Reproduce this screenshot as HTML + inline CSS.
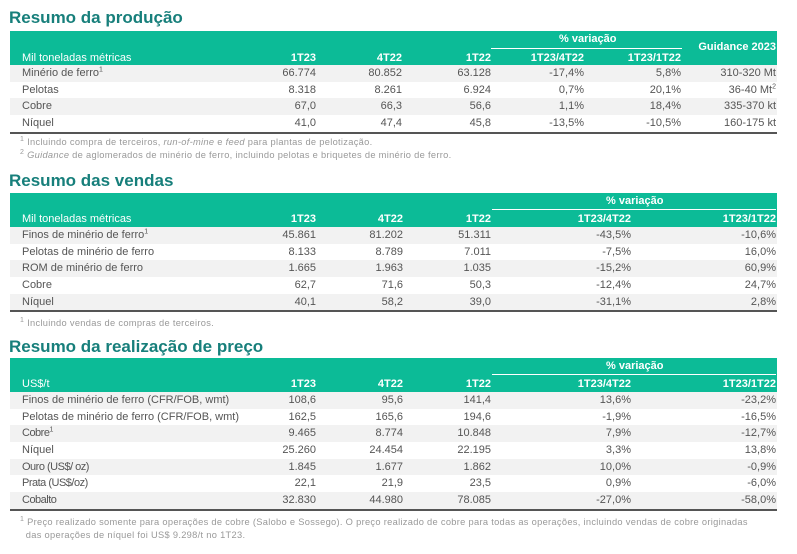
<!DOCTYPE html><html><head><meta charset="utf-8"><style>
body{margin:0;width:797px;height:554px;background:#fff;font-family:"Liberation Sans",sans-serif;position:relative;overflow:hidden}
.t{position:absolute;left:9px;font-size:17px;font-weight:bold;color:#177f7b;line-height:20px}
.tb{position:absolute;left:10px;width:767px}
.hd{position:relative;background:#0cbb97;color:#fff;font-size:11px;font-weight:bold}
.r{position:relative;height:16.7px;line-height:16.7px;font-size:11px;color:#555}
.g{background:#f2f2f2}
.c{position:absolute;top:0;white-space:nowrap}
.l{left:12px}
.hr{position:absolute;height:1px;background:#fff}
.bot{border-bottom:2px solid #555}
.fn{position:absolute;left:20px;font-size:9.3px;color:#999;letter-spacing:.3px;line-height:12.5px}
sup{font-size:7px;line-height:0}
</style></head><body>

<div class="t" style="top:8px">Resumo da produção</div>
<div class="tb" style="top:31px">
 <div class="hd" style="height:34px">
  <span class="c" style="left:549px;top:2px">% variação</span>
  <div class="hr" style="left:481px;width:191px;top:17px"></div>
  <span class="c" style="right:1px;top:10px">Guidance 2023</span>
  <span class="c l" style="top:21px;font-weight:normal">Mil toneladas métricas</span>
  <span class="c" style="right:461px;top:21px">1T23</span>
  <span class="c" style="right:375px;top:21px">4T22</span>
  <span class="c" style="right:286px;top:21px">1T22</span>
  <span class="c" style="right:193px;top:21px">1T23/4T22</span>
  <span class="c" style="right:96px;top:21px">1T23/1T22</span>
 </div>
 <div class="r g"><span class="c l">Minério de ferro<sup>1</sup></span><span class="c" style="right:461px">66.774</span><span class="c" style="right:375px">80.852</span><span class="c" style="right:286px">63.128</span><span class="c" style="right:193px">-17,4%</span><span class="c" style="right:96px">5,8%</span><span class="c" style="right:1px">310-320 Mt</span></div>
 <div class="r"><span class="c l">Pelotas</span><span class="c" style="right:461px">8.318</span><span class="c" style="right:375px">8.261</span><span class="c" style="right:286px">6.924</span><span class="c" style="right:193px">0,7%</span><span class="c" style="right:96px">20,1%</span><span class="c" style="right:1px">36-40 Mt<sup>2</sup></span></div>
 <div class="r g"><span class="c l">Cobre</span><span class="c" style="right:461px">67,0</span><span class="c" style="right:375px">66,3</span><span class="c" style="right:286px">56,6</span><span class="c" style="right:193px">1,1%</span><span class="c" style="right:96px">18,4%</span><span class="c" style="right:1px">335-370 kt</span></div>
 <div class="r bot"><span class="c l">Níquel</span><span class="c" style="right:461px">41,0</span><span class="c" style="right:375px">47,4</span><span class="c" style="right:286px">45,8</span><span class="c" style="right:193px">-13,5%</span><span class="c" style="right:96px">-10,5%</span><span class="c" style="right:1px">160-175 kt</span></div>
</div>
<div class="fn" style="top:136px"><sup>1</sup> Incluindo compra de terceiros, <i>run-of-mine</i> e <i>feed</i> para plantas de pelotização.<br><sup>2</sup> <i>Guidance</i> de aglomerados de minério de ferro, incluindo pelotas e briquetes de minério de ferro.</div>

<div class="t" style="top:171px">Resumo das vendas</div>
<div class="tb" style="top:193px">
 <div class="hd" style="height:34px">
  <span class="c" style="left:596px;top:2px">% variação</span>
  <div class="hr" style="left:482px;width:284px;top:16px"></div>
  <span class="c l" style="top:20px;font-weight:normal">Mil toneladas métricas</span>
  <span class="c" style="right:461px;top:20px">1T23</span>
  <span class="c" style="right:374px;top:20px">4T22</span>
  <span class="c" style="right:286px;top:20px">1T22</span>
  <span class="c" style="right:146px;top:20px">1T23/4T22</span>
  <span class="c" style="right:1px;top:20px">1T23/1T22</span>
 </div>
 <div class="r g"><span class="c l">Finos de minério de ferro<sup>1</sup></span><span class="c" style="right:461px">45.861</span><span class="c" style="right:374px">81.202</span><span class="c" style="right:286px">51.311</span><span class="c" style="right:146px">-43,5%</span><span class="c" style="right:1px">-10,6%</span></div>
 <div class="r"><span class="c l">Pelotas de minério de ferro</span><span class="c" style="right:461px">8.133</span><span class="c" style="right:374px">8.789</span><span class="c" style="right:286px">7.011</span><span class="c" style="right:146px">-7,5%</span><span class="c" style="right:1px">16,0%</span></div>
 <div class="r g"><span class="c l">ROM de minério de ferro</span><span class="c" style="right:461px">1.665</span><span class="c" style="right:374px">1.963</span><span class="c" style="right:286px">1.035</span><span class="c" style="right:146px">-15,2%</span><span class="c" style="right:1px">60,9%</span></div>
 <div class="r"><span class="c l">Cobre</span><span class="c" style="right:461px">62,7</span><span class="c" style="right:374px">71,6</span><span class="c" style="right:286px">50,3</span><span class="c" style="right:146px">-12,4%</span><span class="c" style="right:1px">24,7%</span></div>
 <div class="r g bot"><span class="c l">Níquel</span><span class="c" style="right:461px">40,1</span><span class="c" style="right:374px">58,2</span><span class="c" style="right:286px">39,0</span><span class="c" style="right:146px">-31,1%</span><span class="c" style="right:1px">2,8%</span></div>
</div>
<div class="fn" style="top:317px"><sup>1</sup> Incluindo vendas de compras de terceiros.</div>

<div class="t" style="top:337px">Resumo da realização de preço</div>
<div class="tb" style="top:358px">
 <div class="hd" style="height:34px">
  <span class="c" style="left:596px;top:2px">% variação</span>
  <div class="hr" style="left:482px;width:284px;top:16px"></div>
  <span class="c l" style="top:20px;font-weight:normal">US$/t</span>
  <span class="c" style="right:461px;top:20px">1T23</span>
  <span class="c" style="right:374px;top:20px">4T22</span>
  <span class="c" style="right:286px;top:20px">1T22</span>
  <span class="c" style="right:146px;top:20px">1T23/4T22</span>
  <span class="c" style="right:1px;top:20px">1T23/1T22</span>
 </div>
 <div class="r g"><span class="c l">Finos de minério de ferro (CFR/FOB, wmt)</span><span class="c" style="right:461px">108,6</span><span class="c" style="right:374px">95,6</span><span class="c" style="right:286px">141,4</span><span class="c" style="right:146px">13,6%</span><span class="c" style="right:1px">-23,2%</span></div>
 <div class="r"><span class="c l">Pelotas de minério de ferro (CFR/FOB, wmt)</span><span class="c" style="right:461px">162,5</span><span class="c" style="right:374px">165,6</span><span class="c" style="right:286px">194,6</span><span class="c" style="right:146px">-1,9%</span><span class="c" style="right:1px">-16,5%</span></div>
 <div class="r g"><span class="c l" style="letter-spacing:-.5px">Cobre<sup>1</sup></span><span class="c" style="right:461px">9.465</span><span class="c" style="right:374px">8.774</span><span class="c" style="right:286px">10.848</span><span class="c" style="right:146px">7,9%</span><span class="c" style="right:1px">-12,7%</span></div>
 <div class="r"><span class="c l">Níquel</span><span class="c" style="right:461px">25.260</span><span class="c" style="right:374px">24.454</span><span class="c" style="right:286px">22.195</span><span class="c" style="right:146px">3,3%</span><span class="c" style="right:1px">13,8%</span></div>
 <div class="r g"><span class="c l" style="letter-spacing:-.5px">Ouro (US$/ oz)</span><span class="c" style="right:461px">1.845</span><span class="c" style="right:374px">1.677</span><span class="c" style="right:286px">1.862</span><span class="c" style="right:146px">10,0%</span><span class="c" style="right:1px">-0,9%</span></div>
 <div class="r"><span class="c l" style="letter-spacing:-.5px">Prata (US$/oz)</span><span class="c" style="right:461px">22,1</span><span class="c" style="right:374px">21,9</span><span class="c" style="right:286px">23,5</span><span class="c" style="right:146px">0,9%</span><span class="c" style="right:1px">-6,0%</span></div>
 <div class="r g bot"><span class="c l" style="letter-spacing:-.5px">Cobalto</span><span class="c" style="right:461px">32.830</span><span class="c" style="right:374px">44.980</span><span class="c" style="right:286px">78.085</span><span class="c" style="right:146px">-27,0%</span><span class="c" style="right:1px">-58,0%</span></div>
</div>
<div class="fn" style="top:516px"><sup>1</sup> Preço realizado somente para operações de cobre (Salobo e Sossego). O preço realizado de cobre para todas as operações, incluindo vendas de cobre originadas<br>&nbsp;&nbsp;das operações de níquel foi US$ 9.298/t no 1T23.</div>
</body></html>
